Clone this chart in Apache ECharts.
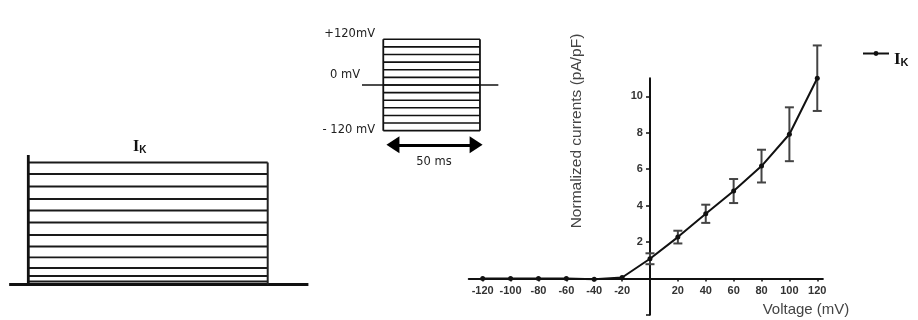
<!DOCTYPE html>
<html><head><meta charset="utf-8">
<script src="https://cdn.jsdelivr.net/npm/echarts@6/dist/echarts.min.js"></script>
<style>html,body{margin:0;padding:0;background:#fff}#c{width:918px;height:320px}</style>
</head><body><div id="c"></div>
<script>
// ---- Panel A: K+ current traces (arbitrary units) ----
const traceLevels = [12.2, 11.05, 9.8, 8.55, 7.4, 6.2, 4.95, 3.8, 2.72, 1.65, 0.85, 0.3];
const traceTimes = [0, 50];          // ms
const traceOnsetPeak = 12.95;
const baselineSpan = [-4, 58.5];

// ---- Panel B: voltage-step protocol ----
const stepVoltages = [-120, -100, -80, -60, -40, -20, 0, 20, 40, 60, 80, 100, 120];
const stepTimes = [0, 50];           // ms
const holdingSpan = [-11, 59.5];
const arrowSpan = [5, 48];
const arrowLevel = -157;

// ---- Panel C: I-V relation ----
const voltages = [-120, -100, -80, -60, -40, -20, 0, 20, 40, 60, 80, 100, 120];
const currents = [0, 0, 0, 0, -0.05, 0.05, 1.08, 2.27, 3.55, 4.8, 6.17, 7.92, 11.0];
const errors   = [0, 0, 0, 0, 0, 0, 0.3, 0.35, 0.5, 0.66, 0.9, 1.48, 1.8];
const xTickLabels = [-120, -100, -80, -60, -40, -20, 20, 40, 60, 80, 100, 120];
const yTickLabels = [2, 4, 6, 8, 10];
const yTickMarks = [-2, 2, 4, 6, 8, 10];

const chart = echarts.init(document.getElementById('c'), null, {renderer: 'canvas'});
const series = [];

// Panel A series
traceLevels.forEach(v => series.push({
  type: 'line', xAxisIndex: 0, yAxisIndex: 0, clip: false, symbol: 'none', silent: true,
  data: [[traceTimes[0], v], [traceTimes[1], v]],
  lineStyle: {color: '#1a1a1a', width: 1.8}
}));
series.push({type: 'line', xAxisIndex: 0, yAxisIndex: 0, clip: false, symbol: 'none', silent: true,
  data: [[baselineSpan[0], 0], [baselineSpan[1], 0]], lineStyle: {color: '#111', width: 3}});
series.push({type: 'line', xAxisIndex: 0, yAxisIndex: 0, clip: false, symbol: 'none', silent: true,
  data: [[traceTimes[0], 0], [traceTimes[0], traceOnsetPeak]], lineStyle: {color: '#111', width: 2.8}});
series.push({type: 'line', xAxisIndex: 0, yAxisIndex: 0, clip: false, symbol: 'none', silent: true,
  data: [[traceTimes[1], 0], [traceTimes[1], traceLevels[0]]], lineStyle: {color: '#222', width: 2}});

// Panel B series
stepVoltages.forEach(v => series.push({
  type: 'line', xAxisIndex: 1, yAxisIndex: 1, clip: false, symbol: 'none', silent: true,
  data: [[stepTimes[0], v], [stepTimes[1], v]],
  lineStyle: {color: '#111', width: 1.6}
}));
series.push({type: 'line', xAxisIndex: 1, yAxisIndex: 1, clip: false, symbol: 'none', silent: true,
  data: [[holdingSpan[0], 0], [holdingSpan[1], 0]], lineStyle: {color: '#111', width: 1.6}});
stepTimes.forEach(t => series.push({
  type: 'line', xAxisIndex: 1, yAxisIndex: 1, clip: false, symbol: 'none', silent: true,
  data: [[t, stepVoltages[0]], [t, stepVoltages[stepVoltages.length - 1]]],
  lineStyle: {color: '#111', width: 1.8}
}));
series.push({type: 'line', xAxisIndex: 1, yAxisIndex: 1, clip: false, symbol: 'none', silent: true,
  data: [],
  markLine: {silent: true, symbol: ['triangle', 'triangle'], symbolSize: [17, 13],
    label: {show: false}, lineStyle: {color: '#000', width: 3.2, type: 'solid'},
    data: [[{coord: [arrowSpan[0], arrowLevel]}, {coord: [arrowSpan[1], arrowLevel]}]]}
});

// Panel C series
series.push({
  name: 'IK', type: 'line', xAxisIndex: 2, yAxisIndex: 2, clip: false,
  data: voltages.map((v, i) => [v, currents[i]]),
  symbol: 'circle', symbolSize: 5,
  itemStyle: {color: '#111'}, lineStyle: {color: '#111', width: 2}, z: 4
});
series.push({
  type: 'custom', xAxisIndex: 2, yAxisIndex: 2, silent: true, z: 3,
  data: voltages.map((v, i) => [v, currents[i], errors[i]]).filter(d => d[2] > 0),
  renderItem: function (params, api) {
    const x = api.value(0), y = api.value(1), e = api.value(2);
    const top = api.coord([x, y + e]), bot = api.coord([x, y - e]);
    const w = 4.5, st = {stroke: '#444', lineWidth: 2};
    return {type: 'group', children: [
      {type: 'line', shape: {x1: top[0], y1: top[1], x2: bot[0], y2: bot[1]}, style: st},
      {type: 'line', shape: {x1: top[0] - w, y1: top[1], x2: top[0] + w, y2: top[1]}, style: st},
      {type: 'line', shape: {x1: bot[0] - w, y1: bot[1], x2: bot[0] + w, y2: bot[1]}, style: st}
    ]};
  }
});

const hiddenAxis = {show: false};
// right panel: axes cross at (0, 0) -> placed with offsets
const ivGrid = {left: 468.75, top: 78.2, width: 354.1, height: 236.6};
const xMin = -130, xMax = 124, yMin = -2, yMax = 11;
const yAxisOffset = -(0 - xMin) / (xMax - xMin) * ivGrid.width;
const xAxisOffset = -(0 - yMin) / (yMax - yMin) * ivGrid.height;

const option = {
  animation: false,
  backgroundColor: '#fff',
  grid: [
    {left: 9.15, top: 149.5, width: 299.25, height: 140, outerBoundsMode: 'none'},
    {left: 362, top: 39.3, width: 137.3, height: 110.4, outerBoundsMode: 'none'},
    Object.assign({outerBoundsMode: 'none'}, ivGrid)
  ],
  xAxis: [
    Object.assign({type: 'value', gridIndex: 0, min: -4, max: 58.5}, hiddenAxis),
    Object.assign({type: 'value', gridIndex: 1, min: -11, max: 60}, hiddenAxis),
    {type: 'value', gridIndex: 2, min: xMin, max: xMax, position: 'bottom', offset: xAxisOffset,
      axisLine: {show: true, onZero: false, lineStyle: {color: '#111', width: 2}},
      axisTick: {show: true, length: 3, customValues: voltages, lineStyle: {color: '#111', width: 1.5}},
      axisLabel: {show: true, customValues: xTickLabels, margin: 7, color: '#333',
        fontFamily: 'Liberation Sans, Arial, sans-serif', fontWeight: 'bold', fontSize: 11},
      splitLine: {show: false}}
  ],
  yAxis: [
    Object.assign({type: 'value', gridIndex: 0, min: -0.5, max: 13.5}, hiddenAxis),
    Object.assign({type: 'value', gridIndex: 1, min: -170, max: 120}, hiddenAxis),
    {type: 'value', gridIndex: 2, min: yMin, max: yMax, position: 'left', offset: yAxisOffset,
      axisLine: {show: true, onZero: false, lineStyle: {color: '#111', width: 2}},
      axisTick: {show: true, length: 4, customValues: yTickMarks, lineStyle: {color: '#111', width: 1.5}},
      axisLabel: {show: true, customValues: yTickLabels, margin: 7, color: '#333',
        fontFamily: 'Liberation Sans, Arial, sans-serif', fontWeight: 'bold', fontSize: 11},
      splitLine: {show: false}}
  ],
  legend: {
    show: true, left: 857, top: 46, itemWidth: 26, itemHeight: 6, itemGap: 4,
    data: [{name: 'IK'}],
    formatter: function () { return '{i|I}{k|K}'; },
    textStyle: {
      rich: {
        i: {fontFamily: 'Liberation Serif, serif', fontWeight: 'bold', fontSize: 17, color: '#111', padding: [12, 0, 0, 0]},
        k: {fontFamily: 'Liberation Sans, Arial, sans-serif', fontWeight: 'bold', fontSize: 11, color: '#111', padding: [18, 0, 0, 0]}
      }
    }
  },
  graphic: [
    {type: 'text', left: 133, top: 139, silent: true, style: {
      text: '{i|I}{k|K}',
      rich: {
        i: {fontFamily: 'Liberation Serif, serif', fontWeight: 'bold', fontSize: 16, fill: '#111'},
        k: {fontFamily: 'Liberation Sans, Arial, sans-serif', fontWeight: 'bold', fontSize: 10, fill: '#111', padding: [6, 0, 0, 0]}
      }}},
    {type: 'text', x: 375, y: 34, silent: true, style: {text: '+120mV', font: '11.5px DejaVu Sans', fill: '#222', textAlign: 'right', textVerticalAlign: 'middle'}},
    {type: 'text', x: 360, y: 75, silent: true, style: {text: '0 mV', font: '11.5px DejaVu Sans', fill: '#222', textAlign: 'right', textVerticalAlign: 'middle'}},
    {type: 'text', x: 375, y: 130, silent: true, style: {text: '- 120 mV', font: '11.5px DejaVu Sans', fill: '#222', textAlign: 'right', textVerticalAlign: 'middle'}},
    {type: 'text', x: 434, y: 162, silent: true, style: {text: '50 ms', font: '11.5px DejaVu Sans', fill: '#222', textAlign: 'center', textVerticalAlign: 'middle'}},
    {type: 'text', x: 577, y: 131, rotation: Math.PI / 2, silent: true, style: {text: 'Normalized currents (pA/pF)', font: '15.5px Liberation Sans, Arial, sans-serif', fill: '#444', textAlign: 'center', textVerticalAlign: 'middle'}},
    {type: 'text', x: 806, y: 310, silent: true, style: {text: 'Voltage (mV)', font: '15px Liberation Sans, Arial, sans-serif', fill: '#444', textAlign: 'center', textVerticalAlign: 'middle'}}
  ],
  series: series
};
chart.setOption(option);
</script>
</body></html>
